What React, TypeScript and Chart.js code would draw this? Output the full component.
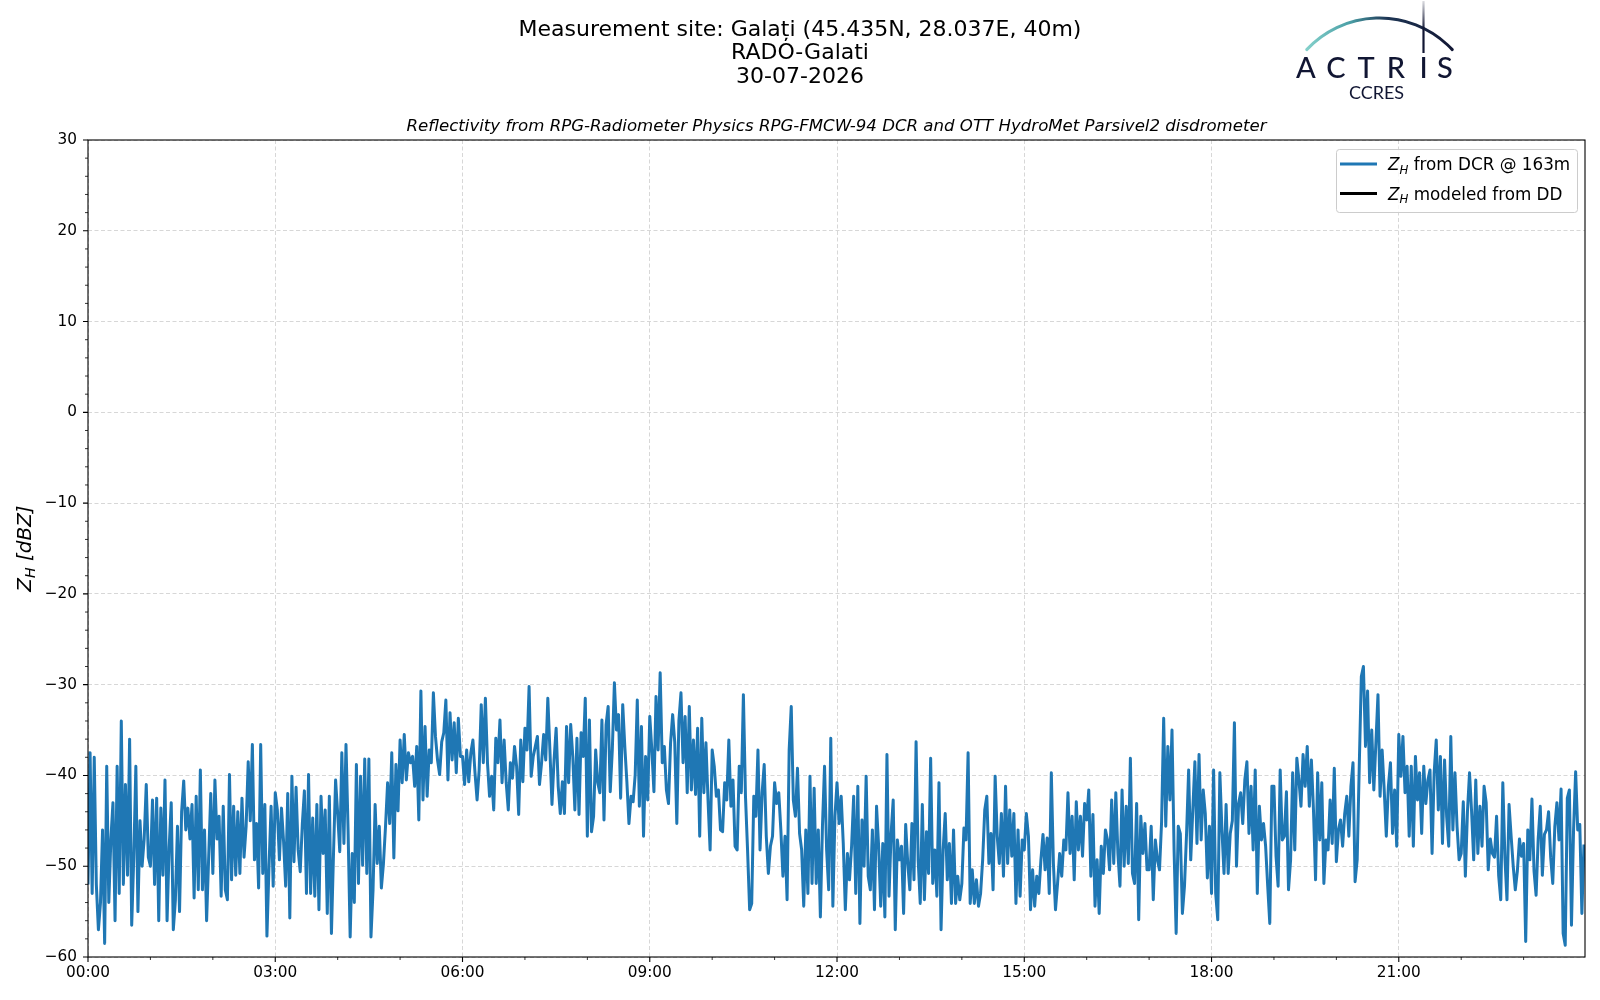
import React, { useEffect, useRef } from "react";
import { Chart, registerables } from "chart.js";

Chart.register(...registerables);

const FONT = '"DejaVu Sans", "Liberation Sans", sans-serif';

// Z_H from DCR @ 163m, one value every 2 minutes (30 values per hour)
const dcr00to03 = [
  // 00h
  -52, -37.5, -53, -38, -52, -57, -54, -46, -58.5, -39, -54, -47, -43, -56, -39, -53, -34, -52, -41, -51, -36, -56.5, -49, -39, -55, -45, -50, -47, -41, -49,
  // 01h
  -50, -42.7, -52, -42.5, -56, -43.6, -51, -40.5, -56, -48, -43, -57, -53.7, -45.6, -55, -44, -40.6, -46, -43.6, -47, -43.2, -53.5, -42.3, -52.6, -39.4, -52.6, -46, -56, -49, -42,
  // 02h
  -50.8, -40.5, -47, -44.5, -53.3, -43.4, -52.6, -53.7, -39.9, -51.5, -43.4, -51, -44, -50.8, -42.5, -49, -45.6, -38.5, -45, -36.6, -49.3, -45.3, -52.4, -36.6, -50.8, -43.2, -57.7, -50, -43.4, -52.2,
];
const dcr03to06 = [
  // 03h
  -41.9, -43.8, -49.3, -43.6, -47.3, -52.2, -42, -55.7, -40.1, -49.5, -41.3, -48.2, -50.6, -45.4, -41.7, -53, -39.9, -53, -44.7, -53.3, -43.2, -54.8, -42.3, -48.6, -43.8, -55.2, -42.3, -57.4, -48.6, -40.5,
  // 04h
  -44.2, -48.4, -37.5, -47.5, -36.6, -46, -57.8, -48.6, -54, -38.8, -51.9, -40.1, -49.9, -38.2, -50.8, -38.2, -57.8, -52.6, -43.2, -49.7, -45.6, -52.4, -49.7, -45.6, -40.8, -45.3, -37.5, -49.1, -38.8, -43.9,
  // 05h
  -36.1, -40.8, -35.5, -40.5, -37.5, -38.6, -37.9, -41.2, -36.8, -44.9, -30.7, -42.7, -34.6, -42.3, -37.2, -38.6, -30.9, -35.7, -38.3, -39.9, -36.3, -35.3, -31.7, -40.5, -33.1, -38.3, -34.2, -39.7, -33.7, -37.9,
];
const dcr06to09 = [
  // 06h
  -37.9, -41, -37.2, -40.7, -37.5, -36.1, -39.7, -42.7, -39.4, -32.2, -38.6, -31.5, -38.6, -42.3, -40.1, -43.8, -35.9, -38.6, -33.9, -40.8, -36.1, -40.8, -43.8, -38.6, -40.3, -36.8, -39, -44.3, -36.1, -40.7,
  // 07h
  -34.8, -37.2, -30.2, -40.1, -37.9, -36.8, -35.7, -41, -38.6, -35.5, -38.3, -31.5, -37.2, -43.2, -38.3, -34.8, -41.2, -44.2, -40.7, -44.2, -34.6, -40.8, -34.4, -37.9, -43.8, -35.9, -44.3, -35.3, -37.9, -31.5,
  // 08h
  -46.7, -33.9, -46.2, -44.5, -37.2, -40.8, -41.9, -33.9, -44.9, -34.4, -32.4, -41.8, -37.2, -29.8, -35, -33.3, -42.5, -32.2, -36.8, -40.7, -45.3, -42.3, -42.9, -39.9, -31.7, -43.4, -34.6, -46.7, -37.9, -42.7,
];
const dcr09to12 = [
  // 09h
  -33.5, -37.2, -41.8, -31.3, -37.2, -28.7, -38.6, -36.8, -41.6, -43.1, -36.4, -33.3, -36.3, -45.3, -34, -30.9, -38.6, -33.5, -41.9, -32.4, -41.6, -36.1, -42.1, -34.8, -46.7, -33.7, -41.9, -36.4, -42.7, -48.2,
  // 10h
  -37.2, -39, -42.3, -41.6, -46, -46.2, -40.8, -42.7, -36.1, -43.4, -40.5, -47.8, -48.2, -39, -41.9, -31.1, -42.3, -48.2, -54.8, -54.1, -42.3, -44.5, -37.2, -48.2, -41.9, -38.8, -46.7, -50.8, -47.8, -46.7,
  // 11h
  -40.8, -43.1, -41.9, -46, -51.1, -46.7, -53.7, -37.2, -32.4, -42.7, -44.5, -39.2, -46.4, -48.2, -54.4, -46, -53, -40.1, -51.9, -41.4, -51.9, -46, -55.6, -45.6, -39, -48.2, -52.6, -35.9, -54.4, -44.5,
];
const dcr12to15 = [
  // 12h
  -40.8, -45.3, -42.3, -47.5, -54.8, -48.6, -51.5, -47.8, -42.3, -53, -41.2, -56.3, -44.9, -50, -40.1, -51.1, -52.6, -46, -54.8, -43.4, -47.8, -54.4, -47.5, -55.6, -37.7, -53.3, -46.4, -42.7, -57, -47.1,
  // 13h
  -49.3, -47.8, -55.2, -45.4, -49.7, -52.6, -45.3, -51.5, -36.3, -49.3, -54.1, -43.2, -53.7, -46.2, -50.8, -38.1, -51.9, -48.2, -53.3, -40.8, -57, -48.2, -44.2, -51.5, -47.5, -54.1, -46, -54.1, -51.1, -53.7,
  // 14h
  -51.9, -45.8, -47.1, -37.5, -54.1, -50.4, -54.1, -51.5, -54.4, -53, -49.3, -43.8, -42.3, -49.7, -46.4, -52.6, -40.1, -46.7, -49.7, -44.2, -51.1, -41.2, -49.7, -43.8, -48.9, -44.2, -54.1, -46, -53.3, -47.1,
];
const dcr15to18 = [
  // 15h
  -48.2, -44.2, -46.7, -54.8, -50.4, -54.4, -51.1, -53, -49.3, -46.5, -50.4, -46.9, -53, -39.7, -49.7, -54.8, -51.9, -48.6, -51.1, -47.1, -48.2, -41.9, -48.6, -44.5, -51.5, -42.9, -48.2, -44.5, -48.9, -43.1,
  // 16h
  -44.9, -41.6, -51.1, -44.3, -54.4, -49.3, -55.2, -47.8, -50.8, -46, -47.1, -50.4, -42.7, -49.7, -41.9, -48.6, -52.2, -41.6, -50, -43.4, -49.7, -38.1, -50.8, -51.9, -43.1, -55.9, -44.5, -48.6, -45.3, -50.4,
  // 17h
  -50.4, -45.6, -53.7, -47.1, -49.3, -50.4, -45.1, -33.7, -45.6, -36.8, -42.7, -35, -48.2, -57.4, -45.6, -46.4, -55.2, -52.2, -46.4, -39.4, -49.3, -43.8, -38.5, -47.5, -37.7, -47.1, -41.6, -44.2, -51.3, -45.6,
];
const dcr18to21 = [
  // 18h
  -53, -39.4, -53, -55.9, -39.7, -46, -50.8, -43.2, -50.8, -46.4, -45, -34.2, -50, -43.1, -41.9, -45.3, -40.5, -38.5, -46.4, -41.2, -48.2, -39.4, -53, -43.4, -47.1, -45.3, -47.8, -52.2, -56.3, -41.2,
  // 19h
  -41.2, -48.9, -52.2, -39.4, -47.1, -46.7, -41.8, -52.6, -49.3, -39.7, -48.2, -38.1, -40.5, -43.4, -37.7, -41.2, -36.8, -43.4, -38.3, -43.8, -51.5, -39.7, -47.1, -40.8, -51.9, -47.1, -48.2, -42.7, -47.5, -39.2,
  // 20h
  -49.5, -46, -44.9, -47.8, -44.2, -42.3, -46.7, -41.2, -38.6, -51.7, -49.3, -39, -29.1, -28, -36.8, -30.7, -40.8, -35, -41.6, -36.4, -31.1, -42.3, -37.2, -41.6, -46.7, -41.2, -38.6, -46.4, -41.6, -47.8,
];
const dcr21to24 = [
  // 21h
  -35.5, -40.1, -35.7, -41.9, -39, -46.7, -39, -47.8, -37.9, -42.7, -39.7, -46.4, -39, -43.1, -40.5, -39.4, -48.6, -39.7, -36.1, -43.8, -37.9, -47.5, -38.3, -44.5, -47.8, -35.7, -46, -39.7, -45.6, -49.3,
  // 22h
  -48.6, -42.9, -51.1, -44, -39.7, -44, -49.3, -40.5, -48.6, -43.4, -47.8, -41.2, -43, -50.4, -47, -48.6, -49, -44.5, -51, -53.7, -40.8, -49, -53.7, -43.2, -46.7, -50, -52.6, -50.5, -47, -48.9,
  // 23h
  -47.5, -58.3, -46, -49.3, -42.6, -50.5, -53.2, -47, -43.4, -51, -46.5, -46, -44, -49, -51.9, -45.6, -43, -47.1, -41.5, -57.4, -58.7, -42.5, -41.6, -56.5, -46, -39.6, -46, -45.4, -55.2, -47.6,
];

const STEP_MINUTES = 2;
const zhFromDcr = [
  ...dcr00to03, ...dcr03to06, ...dcr06to09, ...dcr09to12,
  ...dcr12to15, ...dcr15to18, ...dcr18to21, ...dcr21to24,
];
const zhModeledFromDD: number[] = [];

const X_MAX_HOURS = 23 + 59 / 60;
const xMajorHours = [0, 3, 6, 9, 12, 15, 18, 21];
const xMinorHours = [1, 2, 4, 5, 7, 8, 10, 11, 13, 14, 16, 17, 19, 20, 22, 23];
const yMajor = [-60, -50, -40, -30, -20, -10, 0, 10, 20, 30];
const yMinor = [-58, -56, -54, -52, -48, -46, -44, -42, -38, -36, -34, -32, -28, -26, -24, -22, -18, -16, -14, -12, -8, -6, -4, -2, 2, 4, 6, 8, 12, 14, 16, 18, 22, 24, 26, 28];

const titleLines = ["Measurement site: Galați (45.435N, 28.037E, 40m)", "RADO-Galati", "30-07-2026"];
const subtitle = "Reflectivity from RPG-Radiometer Physics RPG-FMCW-94 DCR and OTT HydroMet Parsivel2 disdrometer";
const legendItems = [
  { sym: "Z", sub: "H", rest: " from DCR @ 163m", color: "#1f77b4" },
  { sym: "Z", sub: "H", rest: " modeled from DD", color: "#000000" },
];
const logoLetters = ["A", "C", "T", "R", "I", "S"];

function fmtY(v: number) {
  return v < 0 ? "\u2212" + Math.abs(v) : String(v);
}
function fmtX(v: number) {
  return String(v).padStart(2, "0") + ":00";
}

const decorPlugin = {
  id: "decor",
  beforeDraw(chart: any) {
    const ctx = chart.ctx;
    ctx.save();
    ctx.fillStyle = "#ffffff";
    ctx.fillRect(0, 0, chart.width, chart.height);
    ctx.restore();
  },
  afterDraw(chart: any) {
    const ctx: CanvasRenderingContext2D = chart.ctx;
    const a = chart.chartArea;
    const xs = chart.scales.x;
    const ys = chart.scales.y;
    ctx.save();

    // frame
    ctx.strokeStyle = "#000";
    ctx.lineWidth = 1.1;
    ctx.strokeRect(a.left, a.top, a.right - a.left, a.bottom - a.top);

    // ticks
    ctx.lineWidth = 1.1;
    ctx.beginPath();
    for (const v of yMajor) {
      const p = ys.getPixelForValue(v);
      ctx.moveTo(a.left - 5, p);
      ctx.lineTo(a.left, p);
    }
    for (const v of xMajorHours) {
      const p = xs.getPixelForValue(v);
      ctx.moveTo(p, a.bottom);
      ctx.lineTo(p, a.bottom + 5);
    }
    ctx.stroke();
    ctx.lineWidth = 0.8;
    ctx.beginPath();
    for (const v of yMinor) {
      const p = ys.getPixelForValue(v);
      ctx.moveTo(a.left - 3, p);
      ctx.lineTo(a.left, p);
    }
    for (const v of xMinorHours) {
      const p = xs.getPixelForValue(v);
      ctx.moveTo(p, a.bottom);
      ctx.lineTo(p, a.bottom + 3);
    }
    ctx.stroke();

    // titles
    ctx.fillStyle = "#000";
    ctx.textAlign = "center";
    ctx.textBaseline = "alphabetic";
    ctx.font = `22px ${FONT}`;
    titleLines.forEach((t, i) => ctx.fillText(t, 800, 35.8 + i * 23.5));
    ctx.font = `italic 16.6px ${FONT}`;
    ctx.fillText(subtitle, (a.left + a.right) / 2, 131);

    // y label
    ctx.save();
    ctx.translate(31, (a.top + a.bottom) / 2);
    ctx.rotate(-Math.PI / 2);
    ctx.textAlign = "left";
    const ls = 20;
    ctx.font = `italic ${ls}px ${FONT}`;
    const wZ = ctx.measureText("Z").width;
    const wRest = ctx.measureText(" [dBZ]").width;
    ctx.font = `italic ${ls * 0.7}px ${FONT}`;
    const wH = ctx.measureText("H").width;
    const total = wZ + wH + wRest;
    let cx = -total / 2;
    ctx.font = `italic ${ls}px ${FONT}`;
    ctx.fillText("Z", cx, 0);
    cx += wZ;
    ctx.font = `italic ${ls * 0.7}px ${FONT}`;
    ctx.fillText("H", cx, ls * 0.2);
    cx += wH;
    ctx.font = `italic ${ls}px ${FONT}`;
    ctx.fillText(" [dBZ]", cx, 0);
    ctx.restore();

    // legend
    const lx = 1336, ly = 149, lw = 241, lh = 63;
    ctx.beginPath();
    (ctx as any).roundRect(lx + 0.5, ly + 0.5, lw, lh, 3);
    ctx.fillStyle = "rgba(255,255,255,0.8)";
    ctx.fill();
    ctx.strokeStyle = "#cccccc";
    ctx.lineWidth = 1;
    ctx.stroke();
    const fs = 16.8;
    legendItems.forEach((it, i) => {
      const ry = 164 + i * 29.5;
      ctx.beginPath();
      ctx.strokeStyle = it.color;
      ctx.lineWidth = 2.8;
      ctx.moveTo(1340, ry);
      ctx.lineTo(1377, ry);
      ctx.stroke();
      ctx.fillStyle = "#000";
      ctx.textAlign = "left";
      let tx = 1388;
      const by = ry + 6.4;
      ctx.font = `italic ${fs}px ${FONT}`;
      ctx.fillText(it.sym, tx, by);
      tx += ctx.measureText(it.sym).width;
      ctx.font = `italic ${fs * 0.7}px ${FONT}`;
      ctx.fillText(it.sub, tx, by + fs * 0.2);
      tx += ctx.measureText(it.sub).width;
      ctx.font = `${fs}px ${FONT}`;
      ctx.fillText(it.rest, tx, by);
    });

    // logo
    const navy = "#111633";
    const grad = ctx.createLinearGradient(1305, 0, 1455, 0);
    grad.addColorStop(0, "#86d2cc");
    grad.addColorStop(0.3, "#4a9fa6");
    grad.addColorStop(0.55, "#1e3554");
    grad.addColorStop(1, navy);
    ctx.beginPath();
    ctx.strokeStyle = grad;
    ctx.lineWidth = 3;
    ctx.lineCap = "round";
    const rcx = 1379.5, rcy = 117.5, rr = 99.5;
    ctx.arc(rcx, rcy, rr, (-137 * Math.PI) / 180, (-43 * Math.PI) / 180);
    ctx.stroke();
    const vg = ctx.createLinearGradient(0, 1, 0, 30);
    vg.addColorStop(0, "rgba(17,22,51,0.15)");
    vg.addColorStop(1, navy);
    ctx.beginPath();
    ctx.strokeStyle = vg;
    ctx.lineWidth = 2.2;
    ctx.lineCap = "butt";
    ctx.moveTo(1423.5, 1);
    ctx.lineTo(1423.5, 53);
    ctx.stroke();
    ctx.fillStyle = navy;
    ctx.textAlign = "center";
    ctx.font = `500 29px Lato, "Open Sans", sans-serif`;
    const lxs = [1306, 1336, 1366, 1396, 1423.5, 1445];
    logoLetters.forEach((ch, i) => ctx.fillText(ch, lxs[i], 77.5));
    ctx.font = `400 18px Lato, "Open Sans", sans-serif`;
    ctx.fillText("CCRES", 1376.5, 99);

    ctx.restore();
  },
};

export default function App() {
  const ref = useRef<HTMLCanvasElement | null>(null);
  useEffect(() => {
    if (!ref.current) return;
    const pts = zhFromDcr.map((v, i) => ({ x: (i * STEP_MINUTES) / 60, y: v }));
    const gridOpts = { color: "rgba(176,176,176,0.5)", lineWidth: 1, drawTicks: false };
    const borderOpts = { display: false, dash: [4, 2.5] };
    const chart = new Chart(ref.current, {
      type: "line",
      data: {
        datasets: [
          {
            label: "Z_H from DCR @ 163m",
            data: pts,
            borderColor: "#1f77b4",
            borderWidth: 3,
            pointRadius: 0,
            tension: 0,
            borderJoinStyle: "round",
            fill: false,
          },
          {
            label: "Z_H modeled from DD",
            data: zhModeledFromDD,
            borderColor: "#000000",
            borderWidth: 3,
            pointRadius: 0,
            fill: false,
          },
        ],
      },
      options: {
        animation: false,
        responsive: false,
        devicePixelRatio: 1,
        events: [],
        layout: { padding: { left: 0, right: 15, top: 140, bottom: 0 } },
        plugins: { legend: { display: false }, title: { display: false }, tooltip: { enabled: false } },
        scales: {
          x: {
            type: "linear",
            min: 0,
            max: X_MAX_HOURS,
            afterFit: (s: any) => {
              s.height = 43;
            },
            afterBuildTicks: (s: any) => {
              s.ticks = xMajorHours.map((v) => ({ value: v }));
            },
            ticks: {
              callback: (v: any) => fmtX(Number(v)),
              font: { family: FONT, size: 15.3 },
              color: "#000",
              padding: 7,
              maxRotation: 0,
              autoSkip: false,
            },
            grid: gridOpts,
            border: borderOpts,
          },
          y: {
            type: "linear",
            min: -60,
            max: 30,
            afterFit: (s: any) => {
              s.width = 88;
            },
            afterBuildTicks: (s: any) => {
              s.ticks = yMajor.map((v) => ({ value: v }));
            },
            ticks: {
              callback: (v: any) => fmtY(Number(v)),
              font: { family: FONT, size: 15.3 },
              color: "#000",
              padding: 11,
              autoSkip: false,
            },
            grid: gridOpts,
            border: borderOpts,
          },
        },
      } as any,
      plugins: [decorPlugin as any],
    });
    return () => chart.destroy();
  }, []);
  return (
    <div style={{ position: "absolute", left: 0, top: 0, width: 1600, height: 1000, background: "#fff" }}>
      <canvas ref={ref} width={1600} height={1000} style={{ width: 1600, height: 1000, display: "block" }} />
    </div>
  );
}
